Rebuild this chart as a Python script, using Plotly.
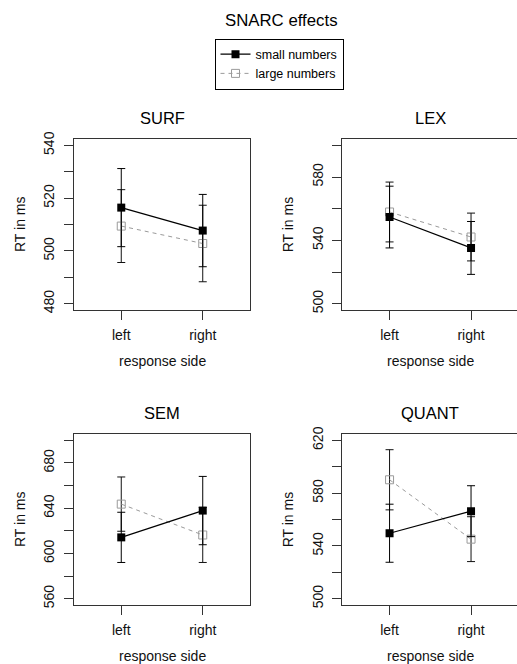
import plotly.graph_objects as go

W, H = 517, 664

conditions = ["SURF", "LEX", "SEM", "QUANT"]
sides = ["left", "right"]

small_surf = [516.4, 507.7]
small_surf_err = [14.8, 13.7]
large_surf = [509.4, 502.8]
large_surf_err = [13.8, 14.5]

small_lex = [554.7, 535.2]
small_lex_err = [19.5, 16.7]
large_lex = [557.9, 542.1]
large_lex_err = [18.9, 15.1]

small_sem = [614.2, 637.9]
small_sem_err = [22.2, 30.2]
large_sem = [643.6, 616.3]
large_sem_err = [24.0, 24.3]

small_quant = [549.6, 566.3]
small_quant_err = [22.0, 19.3]
large_quant = [590.1, 545.1]
large_quant_err = [22.8, 17.0]

# y tick values and which get labels (R drops overlapping labels)
ticks_surf = [480, 490, 500, 510, 520, 530, 540]
labels_surf = ["480", "", "500", "", "520", "", "540"]
ticks_lex = [500, 520, 540, 560, 580, 600]
labels_lex = ["500", "", "540", "", "580", ""]
ticks_sem = [560, 580, 600, 620, 640, 660, 680, 700]
labels_sem = ["560", "", "600", "", "640", "", "680", ""]
ticks_quant = [500, 520, 540, 560, 580, 600, 620]
labels_quant = ["500", "", "540", "", "580", "", "620"]

ylims = {"SURF": (480, 540), "LEX": (500, 600), "SEM": (560, 700), "QUANT": (500, 620)}

small = {"SURF": (small_surf, small_surf_err), "LEX": (small_lex, small_lex_err),
         "SEM": (small_sem, small_sem_err), "QUANT": (small_quant, small_quant_err)}
large = {"SURF": (large_surf, large_surf_err), "LEX": (large_lex, large_lex_err),
         "SEM": (large_sem, large_sem_err), "QUANT": (large_quant, large_quant_err)}
ticks = {"SURF": (ticks_surf, labels_surf), "LEX": (ticks_lex, labels_lex),
         "SEM": (ticks_sem, labels_sem), "QUANT": (ticks_quant, labels_quant)}

FONT = "Liberation Sans, Arial, Helvetica, sans-serif"
GRAY = "#9a9a9a"
AX = "#333333"

# panel boxes in pixels (left, right, top, bottom)
boxes = {
    "SURF": (74, 250, 139, 310),
    "LEX": (342.3, 517, 139, 310),
    "SEM": (74, 250, 434, 605),
    "QUANT": (342.3, 517, 434, 605),
}
px_per_unit = 176 / 2.16

fig = go.Figure()
layout = {}
annotations = []

for i, cond in enumerate(conditions):
    n = "" if i == 0 else str(i + 1)
    xa, ya = "x" + n, "y" + n
    l, r, t, b = boxes[cond]
    sm, se = small[cond]
    lm, le = large[cond]
    fig.add_trace(go.Scatter(
        x=sides, y=lm, xaxis=xa, yaxis=ya, mode="lines+markers",
        name="large numbers", legendgroup="large", showlegend=(i == 0),
        line=dict(color=GRAY, width=1, dash="4px,4px"),
        marker=dict(symbol="square-open", size=8, color=GRAY, line=dict(width=1, color=GRAY)),
        error_y=dict(type="data", array=le, color="#111111", thickness=1, width=4),
    ))
    fig.add_trace(go.Scatter(
        x=sides, y=sm, xaxis=xa, yaxis=ya, mode="lines+markers",
        name="small numbers", legendgroup="small", showlegend=(i == 0),
        line=dict(color="black", width=1.2),
        marker=dict(symbol="square", size=8, color="black"),
        error_y=dict(type="data", array=se, color="black", thickness=1, width=4),
    ))
    lo, hi = ylims[cond]
    ext = (hi - lo) * 0.04
    xr_hi = -0.58 + (r - l) / px_per_unit
    tv, tt = ticks[cond]
    right_panel = cond in ("LEX", "QUANT")
    layout["xaxis" + n] = dict(
        domain=[l / W, r / W], anchor=ya, range=[-0.58, xr_hi], type="category",
        showline=True, mirror=True, linecolor=AX, linewidth=1,
        ticks="outside", ticklen=9, tickcolor=AX, tickwidth=1,
        tickfont=dict(size=14, color="#111", family=FONT), showgrid=False, zeroline=False,
        ticklabelstandoff=3, fixedrange=True, automargin=False,
    )
    layout["yaxis" + n] = dict(
        domain=[1 - b / H, 1 - t / H], anchor=xa, range=[lo - ext, hi + ext],
        showline=True, mirror=not right_panel, linecolor=AX, linewidth=1,
        ticks="outside", ticklen=9, tickcolor=AX, tickwidth=1,
        tickvals=tv, ticktext=tt, tickangle=-90,
        tickfont=dict(size=14, color="#111", family=FONT), showgrid=False, zeroline=False,
        ticklabelstandoff=4, fixedrange=True, automargin=False,
    )
    cx = (l + (l + 176)) / 2
    annotations.append(dict(text=cond, x=cx / W, y=1 - (t - 21) / H, xref="paper", yref="paper",
                            showarrow=False, font=dict(size=16.5, color="black", family=FONT),
                            xanchor="center", yanchor="middle"))
    annotations.append(dict(text="response side", x=cx / W, y=1 - (b + 51) / H, xref="paper", yref="paper",
                            showarrow=False, font=dict(size=14, color="#111", family=FONT),
                            xanchor="center", yanchor="middle"))
    annotations.append(dict(text="RT in ms", x=(l - 54.5) / W, y=1 - ((t + b) / 2) / H, xref="paper", yref="paper",
                            showarrow=False, textangle=-90, font=dict(size=14, color="#111", family=FONT),
                            xanchor="center", yanchor="middle"))

annotations.append(dict(text="SNARC effects", x=281 / W, y=1 - 20 / H, xref="paper", yref="paper",
                        showarrow=False, font=dict(size=16.8, color="black", family=FONT),
                        xanchor="center", yanchor="middle"))

fig.update_layout(
    width=W, height=H, margin=dict(l=0, r=0, t=0, b=0, pad=0, autoexpand=False),
    paper_bgcolor="white", plot_bgcolor="white",
    font=dict(family=FONT, color="black"),
    annotations=annotations,
    legend=dict(x=279 / W, y=1 - 38.5 / H, xanchor="center", yanchor="top",
                bordercolor="black", borderwidth=1, bgcolor="white",
                font=dict(size=12.5, family=FONT, color="black"),
                traceorder="reversed", itemwidth=30, tracegroupgap=0),
    showlegend=True,
    **layout,
)

fig.write_html(
    "out.html",
    config={"displayModeBar": False, "staticPlot": True},
    post_script="document.body.style.margin='0';document.body.style.padding='0';"
                "document.body.style.overflow='hidden';",
)
